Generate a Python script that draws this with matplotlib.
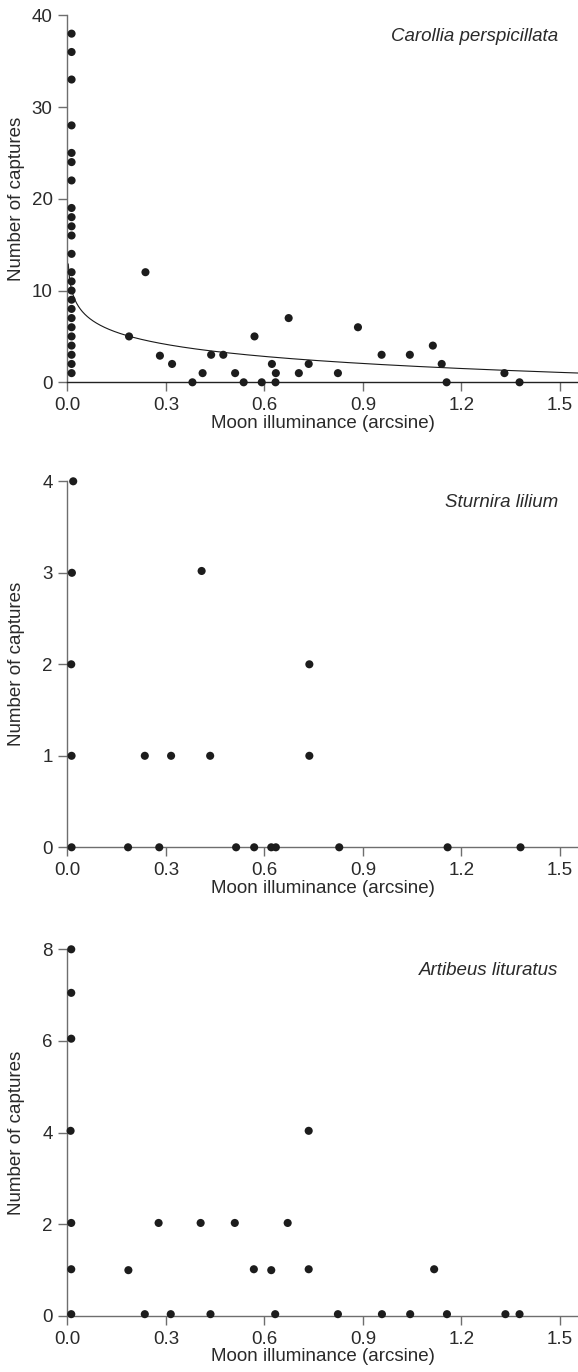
import numpy as np
import matplotlib
matplotlib.use("Agg")
import matplotlib.pyplot as plt

plt.rcParams['font.family'] = ['Liberation Sans', 'DejaVu Sans']

# ---------------- data ----------------
x_ticks = [0.0, 0.3, 0.6, 0.9, 1.2, 1.5]
x_tick_labels = ["0.0", "0.3", "0.6", "0.9", "1.2", "1.5"]
x_label = "Moon illuminance (arcsine)"
y_label = "Number of captures"

# Carollia perspicillata
car_name = "Carollia perspicillata"
car_x = [0.013] * 24 + [0.188, 0.238, 0.282, 0.319, 0.381, 0.412, 0.438, 0.475,
                        0.511, 0.537, 0.570, 0.592, 0.623, 0.635, 0.634, 0.674,
                        0.705, 0.735, 0.824, 0.885, 0.957, 1.043, 1.113, 1.140,
                        1.155, 1.331, 1.377]
car_y = [38, 36, 33, 28, 25, 24, 22, 19, 18, 17, 16, 14, 12, 11, 10, 9, 8, 7, 6,
         5, 4, 3, 2, 1,
         5, 12, 2.9, 2, 0, 1, 3, 3,
         1, 0, 5, 0, 2, 1, 0, 7,
         1, 2, 1, 6, 3, 3, 4, 2,
         0, 1, 0]
car_yticks = [0, 10, 20, 30, 40]
car_ylim = (0, 40)
# fitted logarithmic trend: y = a - b * ln(x)
car_fit_a = 1.85
car_fit_b = 1.9
car_fit_xrange = (0.003, 1.555)

# Sturnira lilium
stu_name = "Sturnira lilium"
stu_x = [0.018, 0.014, 0.012, 0.013, 0.013,
         0.236, 0.316, 0.409, 0.435, 0.185, 0.280, 0.514, 0.569, 0.621, 0.635,
         0.737, 0.737, 0.828, 1.158, 1.380]
stu_y = [4, 3, 2, 1, 0,
         1, 1, 3.02, 1, 0, 0, 0, 0, 0, 0,
         2, 1, 0, 0, 0]
stu_yticks = [0, 1, 2, 3, 4]
stu_ylim = (0, 4)

# Artibeus lituratus
art_name = "Artibeus lituratus"
art_x = [0.012, 0.012, 0.012, 0.010, 0.012, 0.012, 0.012,
         0.186, 0.236, 0.278, 0.315, 0.406, 0.436, 0.510, 0.568, 0.621, 0.633,
         0.671, 0.735, 0.735, 0.824, 0.958, 1.044, 1.117, 1.156, 1.334, 1.377]
art_y = [8, 7.05, 6.05, 4.04, 2.03, 1.02, 0.04,
         1, 0.04, 2.03, 0.04, 2.03, 0.04, 2.03, 1.02, 1.0, 0.04,
         2.03, 4.04, 1.02, 0.04, 0.04, 0.04, 1.02, 0.04, 0.04, 0.04]
art_yticks = [0, 2, 4, 6, 8]
art_ylim = (0, 8)

xlim = (0, 1.555)

# ---------------- style ----------------
W, H, DPI = 578, 1372, 100
fig = plt.figure(figsize=(W / DPI, H / DPI), dpi=DPI)

FS = 13.5
TXT = "#2a2a2a"
SPINE = "#6e6e6e"
DOT = "#1c1c1c"

left = 67.3 / W
width = 1 - left
rects = [
    (left, 1 - 382.3 / H, width, 367.0 / H),
    (left, 1 - 847.3 / H, width, 366.0 / H),
    (left, 1 - 1316.0 / H, width, 366.7 / H),
]

panels = [
    (car_name, car_x, car_y, car_yticks, car_ylim),
    (stu_name, stu_x, stu_y, stu_yticks, stu_ylim),
    (art_name, art_x, art_y, art_yticks, art_ylim),
]

for i, (rect, (name, xs, ys, yt, yl)) in enumerate(zip(rects, panels)):
    ax = fig.add_axes(rect)
    ax.set_facecolor("none")
    for s in ("top", "right"):
        ax.spines[s].set_visible(False)
    ax.spines["left"].set_color(SPINE)
    ax.spines["bottom"].set_color("#222222" if i == 0 else SPINE)
    ax.spines["left"].set_linewidth(1.0)
    ax.spines["bottom"].set_linewidth(1.0)

    ax.scatter(xs, ys, s=34, color=DOT, edgecolors="none", zorder=3,
               clip_on=False)

    if i == 0:
        fx = np.linspace(car_fit_xrange[0], car_fit_xrange[1], 800)
        fy = car_fit_a - car_fit_b * np.log(fx)
        ax.plot(fx, fy, color="#1a1a1a", lw=0.8, zorder=2, clip_on=False)

    ax.set_xlim(*xlim)
    ax.set_ylim(*yl)
    ax.set_xticks(x_ticks)
    ax.set_xticklabels(x_tick_labels)
    ax.set_yticks(yt)
    ax.tick_params(axis="both", direction="out", length=6.5, width=1.0,
                   color=SPINE, labelsize=FS, labelcolor=TXT, pad=4)
    ax.set_xlabel(x_label, fontsize=FS, color=TXT, labelpad=0.5)
    ax.set_ylabel(y_label, fontsize=FS, color=TXT)
    ax.yaxis.set_label_coords(-0.083, 0.5)
    ax.text(0.961, 0.941, name, transform=ax.transAxes, ha="right",
            va="center", fontsize=FS, style="italic", color=TXT)

fig.savefig("out.png", dpi=DPI)
